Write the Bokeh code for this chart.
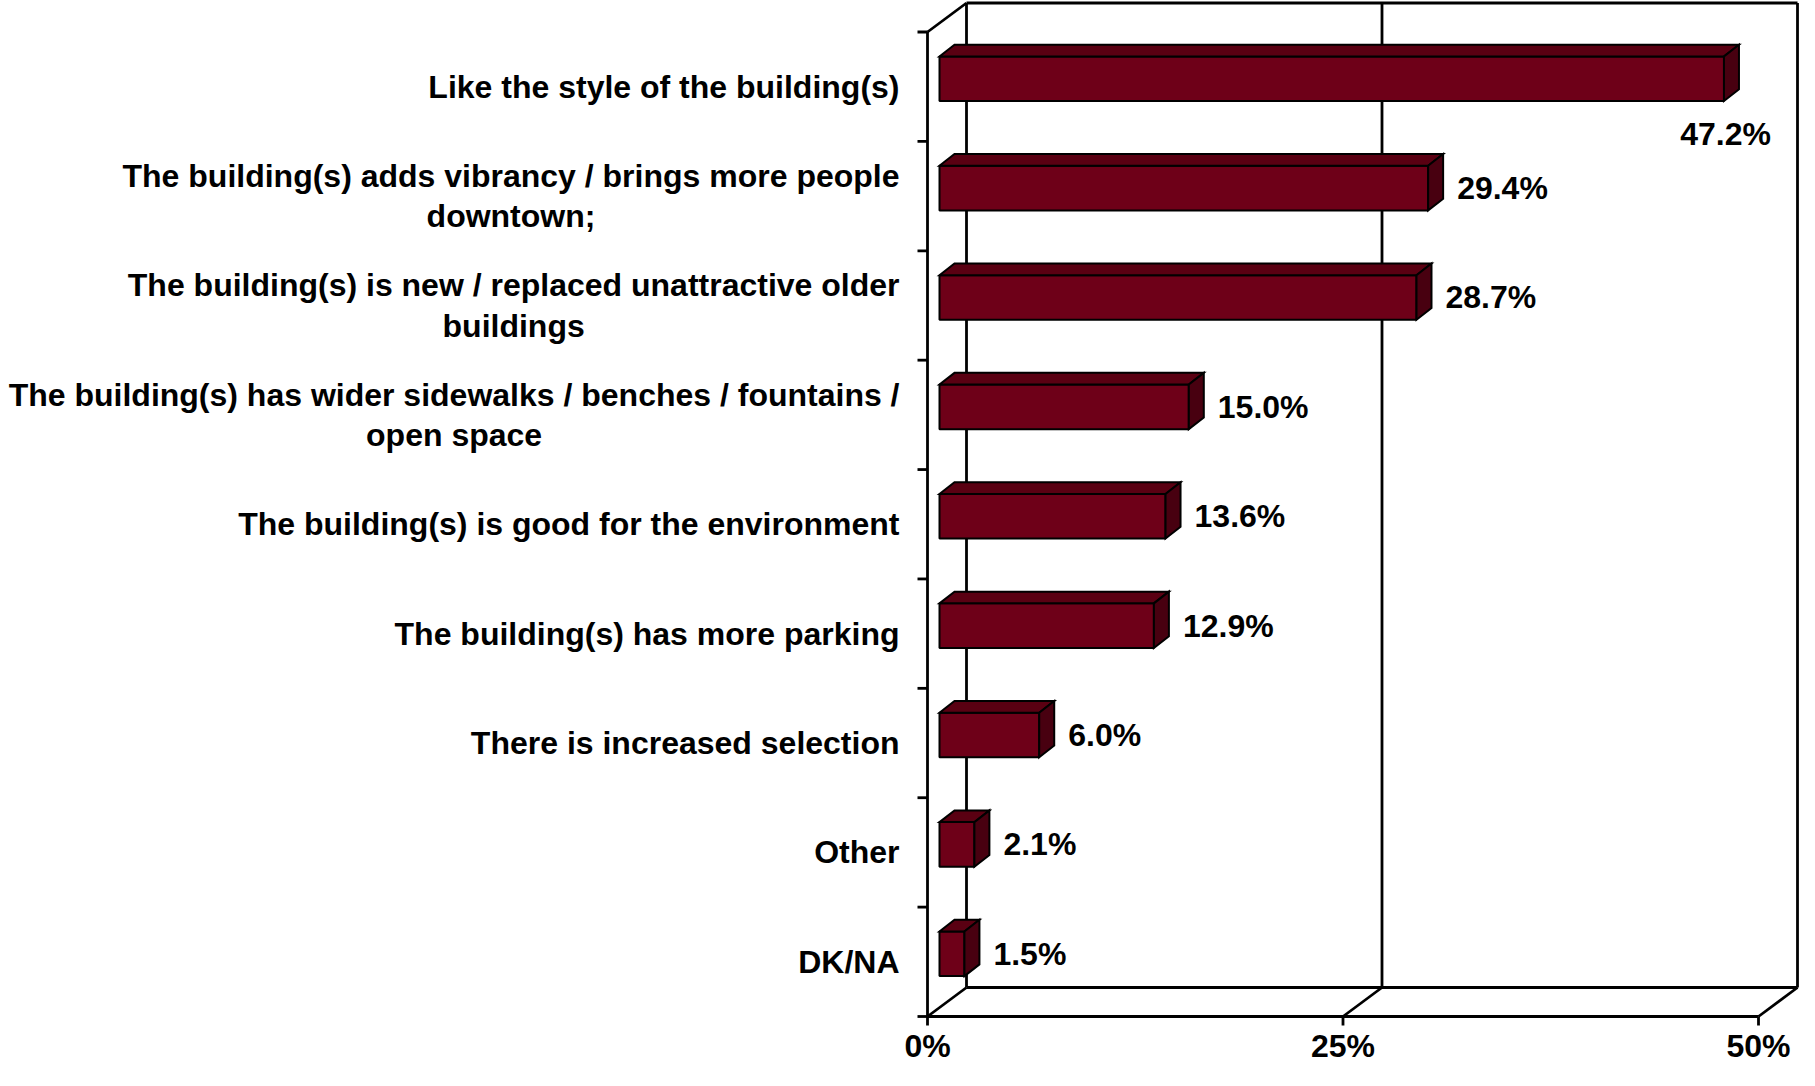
from bokeh.plotting import figure
from bokeh.models import Range1d, ColumnDataSource
from bokeh.embed import file_html
from bokeh.resources import INLINE
from bokeh.core.properties import value

# ---------------- data ----------------
categories = [
    "Like the style of the building(s)",
    "The building(s) adds vibrancy / brings more people\ndowntown;",
    "The building(s) is new / replaced unattractive older\nbuildings",
    "The building(s) has wider sidewalks / benches / fountains /\nopen space",
    "The building(s) is good for the environment",
    "The building(s) has more parking",
    "There is increased selection",
    "Other",
    "DK/NA",
]
percentages = [47.2, 29.4, 28.7, 15.0, 13.6, 12.9, 6.0, 2.1, 1.5]
x_ticks = [0, 25, 50]
x_tick_labels = ["0%", "25%", "50%"]

# ---------------- geometry / style ----------------
W, H = 1799, 1070
X_MAX = 50
N = len(categories)
ORIGIN_X, ORIGIN_Y = 927, 1016   # canvas px of (0%, floor front)
TOP_Y = 31.5                      # canvas px of front axis top
DEPTH_X, DEPTH_Y = 39, 29         # wall depth in px
PPX = (1797 - DEPTH_X - ORIGIN_X) / X_MAX   # pixels per percent
PPY = (ORIGIN_Y - TOP_Y) / N                # pixels per category


def dx(px):
    return px / PPX


def dy(px):
    return px / PPY


x_start = -ORIGIN_X / PPX
y_end = ORIGIN_Y / PPY

FONT = value("Liberation Sans")
FS = "32px"
FRONT = "#6E0018"
TOP = "#5A0012"
SIDE = "#480010"
LW = 2.8

p = figure(width=W, height=H,
           x_range=Range1d(x_start, x_start + W / PPX),
           y_range=Range1d(y_end - H / PPY, y_end),
           output_backend="svg", toolbar_location=None,
           x_axis_location=None, y_axis_location=None,
           min_border=0)
p.grid.visible = False
p.outline_line_color = None
p.background_fill_color = "white"

# ---- walls, floor, grid ----
WX, WY = dx(DEPTH_X), dy(DEPTH_Y)
x0s, y0s, x1s, y1s = [], [], [], []


def seg(a, b, c, d):
    x0s.append(a); y0s.append(b); x1s.append(c); y1s.append(d)


# back wall
seg(WX, WY, WX, N + WY)
seg(WX, N + WY, X_MAX + WX, N + WY)
seg(X_MAX + WX, WY, X_MAX + WX, N + WY)
for t in x_ticks[1:-1]:
    seg(t + WX, WY, t + WX, N + WY)
# floor
seg(WX, WY, X_MAX + WX, WY)
seg(0, 0, X_MAX, 0)
for t in x_ticks:
    seg(t, 0, t + WX, WY)
# left front axis & top diagonal
seg(0, 0, 0, N)
seg(0, N, WX, N + WY)
# ticks
for k in range(N + 1):
    seg(0, k, -dx(10), k)
for t in x_ticks:
    seg(t, 0, t, -dy(9))

p.segment(x0s, y0s, x1s, y1s, line_color="black", line_width=LW)

# ---- 3D bars ----
FX, FY = dx(12), dy(8)           # front-face offset into depth
BX, BY = dx(15), dy(11.7)        # bar depth
HALF = dy(22.3)

lefts, rights, bottoms, tops = [], [], [], []
top_xs, top_ys, side_xs, side_ys = [], [], [], []
for i, v in enumerate(percentages):
    cy = N - i - 0.5
    L = FX
    R = FX + v
    B = cy - HALF + FY
    T = cy + HALF + FY
    lefts.append(L); rights.append(R); bottoms.append(B); tops.append(T)
    top_xs.append([L, R, R + BX, L + BX])
    top_ys.append([T, T, T + BY, T + BY])
    side_xs.append([R, R + BX, R + BX, R])
    side_ys.append([B, B + BY, T + BY, T])

p.quad(left=lefts, right=rights, bottom=bottoms, top=tops,
       fill_color=FRONT, line_color="black", line_width=2)
p.patches(top_xs, top_ys, fill_color=TOP, line_color="black", line_width=2,
          line_join="miter")
p.patches(side_xs, side_ys, fill_color=SIDE, line_color="black", line_width=2,
          line_join="miter")

# ---- value labels ----
in_x, in_y, in_t = [], [], []
out_x, out_y, out_t = [], [], []
for i, v in enumerate(percentages):
    cy = N - i - 0.5
    lab = f"{v:.1f}%"
    if FX + v + dx(29) + dx(92) > X_MAX + WX:
        out_x.append(FX + v + dx(47)); out_y.append(cy - dy(47.5)); out_t.append(lab)
    else:
        in_x.append(FX + v + dx(29)); in_y.append(cy + FY); in_t.append(lab)

p.text(in_x, in_y, text=in_t, text_font=FONT, text_font_size=FS,
       text_font_style="bold", text_color="black",
       text_align="left", text_baseline="middle")
p.text(out_x, out_y, text=out_t, text_font=FONT, text_font_size=FS,
       text_font_style="bold", text_color="black",
       text_align="right", text_baseline="middle")

# ---- category labels ----
cat_src = ColumnDataSource(dict(
    x=[-dx(28)] * N,
    y=[N - i - 0.5 for i in range(N)],
    t=categories,
))
p.text(x="x", y="y", text="t", source=cat_src, text_font=FONT,
       text_font_size=FS, text_font_style="bold", text_color="black",
       anchor="center_right", text_align="center", text_baseline="middle",
       text_line_height=1.12)

# ---- x tick labels ----
p.text(x_ticks, [-dy(29)] * len(x_ticks), text=x_tick_labels, text_font=FONT,
       text_font_size=FS, text_font_style="bold", text_color="black",
       text_align="center", text_baseline="middle")

open("out.html", "w").write(file_html(p, INLINE))
